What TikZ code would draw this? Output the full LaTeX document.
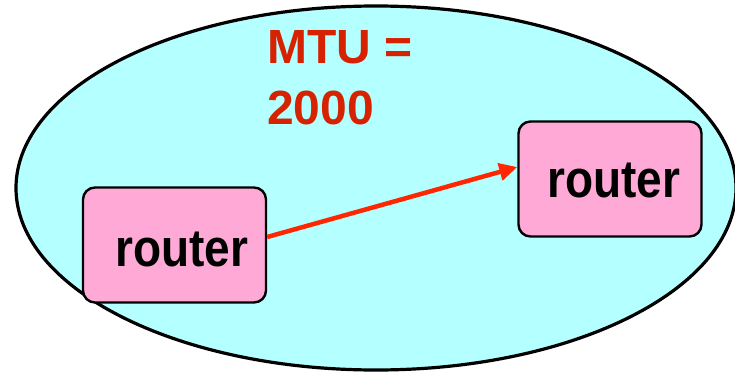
\documentclass[tikz,border=0pt]{standalone}
\usepackage{fontspec}
\usepackage{graphicx}
\setmainfont{Liberation Sans}
\usetikzlibrary{arrows.meta}
\definecolor{netfill}{RGB}{180,255,255}
\definecolor{boxfill}{RGB}{255,170,214}
\definecolor{mtured}{RGB}{214,34,0}
\definecolor{linkred}{RGB}{255,38,0}
\newcommand{\tallword}[1]{\scalebox{1}[1.15]{#1}}
\tikzset{
  routerbox/.style={draw=black, line width=2.4pt, fill=boxfill, rounded corners=12pt,
    minimum width=183pt, minimum height=115pt, inner sep=0pt},
  routertext/.style={font=\bfseries\fontsize{46}{50}\selectfont, inner sep=0pt, anchor=base west},
  mtutext/.style={font=\bfseries\fontsize{48}{61}\selectfont, text=mtured, inner sep=0pt,
    anchor=north west, align=left},
  link/.style={draw=linkred, line width=4.5pt, -{Triangle[length=18pt,width=17pt]}}
}
\begin{document}
\begin{tikzpicture}[x=1pt,y=-1pt]
  \useasboundingbox (0,0) rectangle (735,372);
  % network cloud
  \draw[line width=3.2pt, fill=netfill] (376,188) ellipse [x radius=360, y radius=182];
  % MTU label
  \node[mtutext] (mtu) at (267,30) {MTU =\\2000};
  % routers
  \node[routerbox] (r1) at (174.5,245) {};
  \node[routertext] (t1) at (115,266) {\tallword{router}};
  \node[routerbox] (r2) at (610,179) {};
  \node[routertext] (t2) at (547,197) {\tallword{router}};
  % link between routers
  \draw[link] ([yshift=8pt]r1.east) -- ([yshift=12pt]r2.west);
\end{tikzpicture}
\end{document}
